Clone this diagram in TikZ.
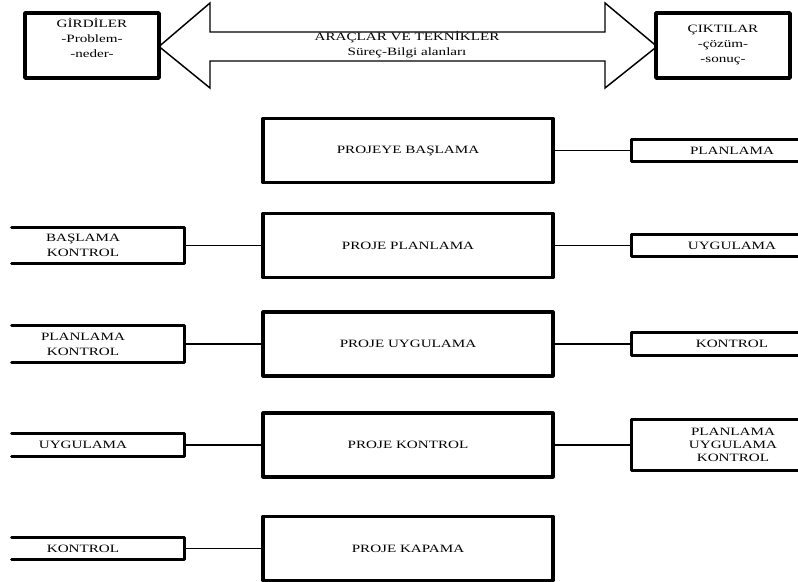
\documentclass[tikz,border=0pt]{standalone}
\usepackage{fontspec}
\setmainfont{Liberation Serif}[FakeStretch=1.35]
\begin{document}
\begin{tikzpicture}[x=0.75pt,y=-0.75pt,
  lbl/.style={font=\fontsize{8.4}{11.25}\selectfont, align=center, inner sep=0pt},
  tightlbl/.style={font=\fontsize{8.4}{9.75}\selectfont, align=center, inner sep=0pt},
  mainbox/.style={draw, line width=2.4pt, line join=round, inner sep=0pt,
    minimum width=217.5pt, minimum height=48pt, font=\fontsize{8.4}{11.25}\selectfont},
  topbox/.style={draw, line width=2.8pt, line join=round, inner sep=0pt,
    minimum width=100.5pt, minimum height=48.75pt},
  sidebox/.style={inner sep=0pt},
  edgeline/.style={line width=2.4pt, line cap=round, line join=round},
  link/.style={line width=0.8pt},
  bigarrow/.style={line width=1.1pt, line join=miter}]
\useasboundingbox (0,0) rectangle (798,581);

% top boxes
\node[topbox] (in) at (92,45.5) {};
\node[lbl] (intext) at (92,38) {GİRDİLER\\-Problem-\\-neder-};
\node[topbox] (out) at (723,45.5) {};
\node[lbl] (outtext) at (723,45) {ÇIKTILAR\\-çözüm-\\-sonuç-};

% double arrow
\draw[bigarrow] (159,46.5) -- (210,3) -- (210,32) -- (605,32) -- (605,3) -- (657,46.5)
  -- (605,88) -- (605,61) -- (210,61) -- (210,88) -- cycle;
\node[lbl] (tools) at (407,45) {ARAÇLAR VE TEKNİKLER\\Süreç-Bilgi alanları};

% central boxes
\node[mainbox] (c1) at (408,150.5) {PROJEYE BAŞLAMA};
\node[mainbox] (c2) at (408,245.5) {PROJE PLANLAMA};
\node[mainbox] (c3) at (408,344) {PROJE UYGULAMA};
\node[mainbox] (c4) at (408,445) {PROJE KONTROL};
\node[mainbox] (c5) at (408,548.5) {PROJE KAPAMA};

% left boxes (open on the left)
\node[sidebox, minimum width=129pt, minimum height=26.25pt] (l2) at (98,245.5) {};
\node[sidebox, minimum width=129pt, minimum height=27.75pt] (l3) at (98,344) {};
\node[sidebox, minimum width=129pt, minimum height=16.5pt] (l4) at (98,445) {};
\node[sidebox, minimum width=129pt, minimum height=15.75pt] (l5) at (98,548.5) {};
\node[lbl] (l2t) at (83,245.5) {BAŞLAMA\\KONTROL};
\node[lbl] (l3t) at (83,344) {PLANLAMA\\KONTROL};
\node[lbl] (l4t) at (83,445) {UYGULAMA};
\node[lbl] (l5t) at (83,548.5) {KONTROL};
\foreach \n in {l2,l3,l4,l5}
  \draw[edgeline] (\n.north west) -- (\n.north east) -- (\n.south east) -- (\n.south west);

% right boxes (open on the right)
\node[sidebox, minimum width=126pt, minimum height=16.5pt] (r1) at (716,150.5) {};
\node[sidebox, minimum width=126pt, minimum height=16.5pt] (r2) at (716,245.5) {};
\node[sidebox, minimum width=126pt, minimum height=16.5pt] (r3) at (716,344) {};
\node[sidebox, minimum width=126pt, minimum height=37.5pt] (r4) at (716,445) {};
\node[lbl] (r1t) at (732,150.5) {PLANLAMA};
\node[lbl] (r2t) at (732,245.5) {UYGULAMA};
\node[lbl] (r3t) at (732,344) {KONTROL};
\node[tightlbl] (r4t) at (733,445) {PLANLAMA\\UYGULAMA\\KONTROL};
\foreach \n in {r1,r2,r3,r4}
  \draw[edgeline] (\n.north east) -- (\n.north west) -- (\n.south west) -- (\n.south east);

% connectors
\draw[link] (c1.east) -- (r1.west);
\draw[link] (l2.east) -- (c2.west);
\draw[link] (c2.east) -- (r2.west);
\draw[link] (l3.east) -- (c3.west);
\draw[link] (c3.east) -- (r3.west);
\draw[link] (l4.east) -- (c4.west);
\draw[link] (c4.east) -- (r4.west);
\draw[link] (l5.east) -- (c5.west);
\end{tikzpicture}
\end{document}
